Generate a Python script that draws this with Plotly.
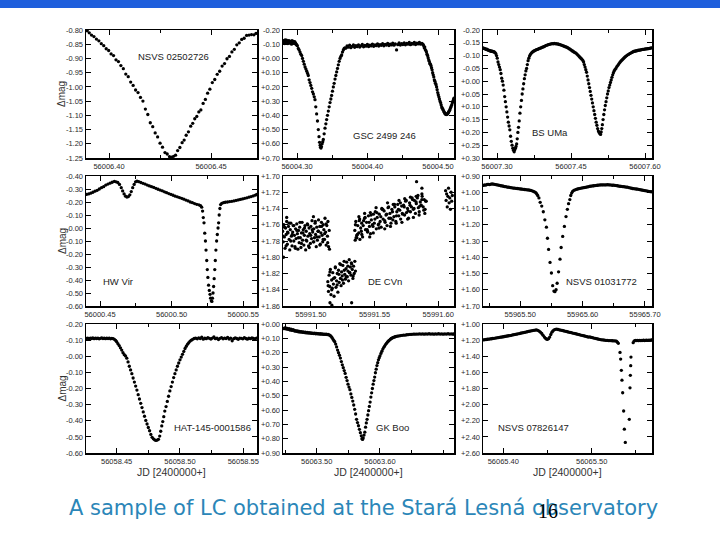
import plotly.graph_objects as go

# ---------------- data (JD offsets from base day, delta-mag) ----------------
NSVS02502726_JD0 = 56006.0
NSVS02502726 = [
    (0.3893,-0.803),(0.3903,-0.810),(0.3914,-0.818),(0.3926,-0.823),(0.3938,-0.832),(0.3950,-0.838),
    (0.3962,-0.848),(0.3974,-0.855),(0.3986,-0.866),(0.3998,-0.872),(0.4010,-0.884),(0.4022,-0.890),
    (0.4034,-0.905),(0.4046,-0.911),(0.4058,-0.925),(0.4070,-0.936),(0.4082,-0.955),(0.4094,-0.964),
    (0.4106,-0.983),(0.4118,-0.995),(0.4130,-1.011),(0.4142,-1.020),(0.4154,-1.037),(0.4166,-1.050),
    (0.4178,-1.078),(0.4190,-1.097),(0.4202,-1.126),(0.4214,-1.140),(0.4226,-1.162),(0.4238,-1.176),
    (0.4250,-1.198),(0.4262,-1.212),(0.4274,-1.231),(0.4285,-1.236),(0.4296,-1.245),(0.4306,-1.247),
    (0.4316,-1.244),(0.4326,-1.240),(0.4336,-1.224),(0.4347,-1.213),(0.4358,-1.196),(0.4368,-1.187),
    (0.4378,-1.170),(0.4389,-1.158),(0.4400,-1.138),(0.4410,-1.128),(0.4420,-1.112),(0.4430,-1.104),
    (0.4440,-1.088),(0.4450,-1.081),(0.4461,-1.058),(0.4472,-1.044),(0.4483,-1.022),(0.4494,-1.008),
    (0.4506,-0.985),(0.4518,-0.974),(0.4530,-0.956),(0.4542,-0.945),(0.4554,-0.927),(0.4566,-0.918),
    (0.4578,-0.901),(0.4590,-0.893),(0.4602,-0.877),(0.4614,-0.868),(0.4626,-0.852),(0.4638,-0.845),
    (0.4650,-0.833),(0.4662,-0.829),(0.4674,-0.819),(0.4686,-0.818),(0.4698,-0.816),(0.4710,-0.817),
    (0.4720,-0.812)]

GSC2499246_JD0 = 56004.0
GSC2499246 = [
    (0.2805,-0.120),(0.2812,-0.125),(0.2818,-0.110),(0.2825,-0.105),(0.2831,-0.130),(0.2838,-0.118),
    (0.2844,-0.115),(0.2851,-0.128),(0.2857,-0.120),(0.2864,-0.112),(0.2870,-0.105),(0.2877,-0.118),
    (0.2883,-0.125),(0.2890,-0.122),(0.2896,-0.110),(0.2903,-0.108),(0.2909,-0.120),(0.2916,-0.115),
    (0.2922,-0.100),(0.2929,-0.125),(0.2935,-0.115),(0.2942,-0.108),(0.2948,-0.120),(0.2955,-0.112),
    (0.2961,-0.105),(0.2968,-0.118),(0.2974,-0.110),(0.2981,-0.105),(0.2987,-0.100),(0.2994,-0.095),
    (0.3005,-0.090),(0.3018,-0.070),(0.3030,-0.060),(0.3042,-0.045),(0.3054,-0.030),(0.3066,-0.020),
    (0.3078,0.000),(0.3090,0.020),(0.3102,0.040),(0.3114,0.060),(0.3126,0.075),(0.3138,0.090),
    (0.3150,0.105),(0.3160,0.120),(0.3172,0.150),(0.3184,0.170),(0.3196,0.190),(0.3208,0.210),
    (0.3220,0.235),(0.3232,0.250),(0.3244,0.270),(0.3255,0.290),(0.3266,0.340),(0.3278,0.390),
    (0.3290,0.440),(0.3302,0.500),(0.3312,0.550),(0.3320,0.590),(0.3328,0.610),(0.3334,0.625),
    (0.3340,0.630),(0.3346,0.620),(0.3356,0.600),(0.3365,0.585),(0.3373,0.570),(0.3385,0.530),
    (0.3397,0.490),(0.3409,0.460),(0.3420,0.430),(0.3432,0.400),(0.3444,0.370),(0.3456,0.340),
    (0.3468,0.310),(0.3480,0.285),(0.3491,0.260),(0.3503,0.230),(0.3515,0.200),(0.3527,0.175),
    (0.3539,0.145),(0.3551,0.120),(0.3562,0.095),(0.3574,0.070),(0.3586,0.045),(0.3598,0.020),
    (0.3610,0.000),(0.3622,-0.015),(0.3633,-0.025),(0.3645,-0.045),(0.3657,-0.060),(0.3669,-0.070),
    (0.3680,-0.075),
    (0.3692,-0.072),(0.3710,-0.088),(0.3728,-0.079),(0.3746,-0.093),(0.3764,-0.076),(0.3782,-0.085),
    (0.3800,-0.095),(0.3818,-0.078),(0.3836,-0.090),(0.3854,-0.083),(0.3872,-0.096),(0.3890,-0.080),
    (0.3908,-0.089),(0.3926,-0.098),(0.3944,-0.082),(0.3962,-0.092),(0.3980,-0.086),(0.3998,-0.099),
    (0.4016,-0.084),(0.4034,-0.094),(0.4052,-0.088),(0.4070,-0.101),(0.4088,-0.085),(0.4106,-0.096),
    (0.4124,-0.090),(0.4142,-0.103),(0.4160,-0.087),(0.4178,-0.097),(0.4196,-0.092),(0.4214,-0.104),
    (0.4232,-0.089),(0.4250,-0.099),(0.4268,-0.094),(0.4286,-0.106),(0.4304,-0.091),(0.4322,-0.101),
    (0.4340,-0.095),(0.4358,-0.108),(0.4376,-0.093),(0.4394,-0.103),(0.4412,-0.060),(0.4430,-0.097),
    (0.4448,-0.109),(0.4466,-0.094),(0.4484,-0.104),(0.4502,-0.098),(0.4520,-0.110),(0.4538,-0.096),
    (0.4556,-0.105),(0.4574,-0.100),(0.4592,-0.112),(0.4610,-0.097),(0.4628,-0.106),(0.4646,-0.101),
    (0.4664,-0.113),(0.4682,-0.098),(0.4700,-0.107),(0.4718,-0.102),(0.4736,-0.112),(0.4754,-0.100),
    (0.4772,-0.106),(0.4788,-0.098),
    (0.4797,-0.090),(0.4805,-0.075),(0.4812,-0.080),(0.4820,-0.062),(0.4828,-0.055),(0.4836,-0.045),
    (0.4844,-0.030),(0.4852,-0.020),(0.4860,-0.005),(0.4868,0.010),(0.4876,0.020),(0.4884,0.035),
    (0.4892,0.040),(0.4900,0.050),(0.4908,0.065),(0.4916,0.080),(0.4924,0.100),(0.4932,0.115),
    (0.4940,0.130),(0.4948,0.150),(0.4956,0.160),(0.4964,0.175),(0.4972,0.185),(0.4980,0.200),
    (0.4988,0.220),(0.4996,0.240),(0.5004,0.255),(0.5012,0.270),(0.5020,0.285),(0.5028,0.300),
    (0.5036,0.310),(0.5044,0.325),(0.5052,0.340),(0.5060,0.350),(0.5068,0.355),(0.5076,0.365),
    (0.5084,0.375),(0.5092,0.380),(0.5100,0.388),(0.5108,0.392),(0.5116,0.395),(0.5124,0.390),
    (0.5132,0.393),(0.5140,0.385),(0.5148,0.380),(0.5156,0.372),(0.5164,0.365),(0.5172,0.355),
    (0.5180,0.345),(0.5188,0.335),(0.5196,0.325),(0.5204,0.310),(0.5212,0.300),(0.5220,0.290),
    (0.5226,0.280)]

BSUMA_JD0 = 56007.0
BSUMA = [
    (0.2720,-0.130),(0.2735,-0.128),(0.2750,-0.127),(0.2765,-0.126),(0.2780,-0.124),(0.2795,-0.125),
    (0.2810,-0.122),(0.2825,-0.121),(0.2840,-0.120),(0.2855,-0.119),(0.2870,-0.118),(0.2885,-0.117),
    (0.2900,-0.117),(0.2915,-0.116),(0.2930,-0.115),(0.2945,-0.114),(0.2960,-0.112),(0.2975,-0.108),
    (0.2990,-0.100),(0.3005,-0.090),(0.3020,-0.075),(0.3035,-0.065),(0.3050,-0.055),(0.3065,-0.045),
    (0.3080,-0.030),(0.3095,-0.012),(0.3110,0.000),(0.3125,0.015),(0.3140,0.035),(0.3155,0.060),
    (0.3170,0.080),(0.3185,0.100),(0.3200,0.120),(0.3215,0.140),(0.3230,0.160),(0.3245,0.175),
    (0.3260,0.190),(0.3275,0.215),(0.3290,0.235),(0.3305,0.250),(0.3320,0.262),(0.3335,0.270),
    (0.3348,0.276),(0.3360,0.268),(0.3372,0.262),(0.3385,0.255),(0.3398,0.245),(0.3410,0.225),
    (0.3423,0.200),(0.3436,0.180),(0.3450,0.155),(0.3465,0.125),(0.3480,0.100),(0.3495,0.075),
    (0.3510,0.050),(0.3525,0.030),(0.3540,0.010),(0.3555,-0.010),(0.3570,-0.025),(0.3585,-0.040),
    (0.3600,-0.050),(0.3615,-0.065),(0.3630,-0.080),(0.3645,-0.090),(0.3660,-0.098),(0.3675,-0.104),
    (0.3690,-0.108),(0.3705,-0.112),(0.3720,-0.114),(0.3740,-0.117),(0.3760,-0.119),(0.3780,-0.121),
    (0.3800,-0.123),(0.3820,-0.124),(0.3840,-0.126),(0.3860,-0.128),(0.3880,-0.129),(0.3900,-0.131),
    (0.3920,-0.133),(0.3940,-0.134),(0.3960,-0.136),(0.3980,-0.138),(0.4000,-0.140),(0.4020,-0.141),
    (0.4040,-0.143),(0.4060,-0.144),(0.4080,-0.145),(0.4100,-0.146),(0.4120,-0.147),(0.4140,-0.146),
    (0.4160,-0.148),(0.4180,-0.146),(0.4200,-0.147),(0.4220,-0.145),(0.4240,-0.146),(0.4260,-0.143),
    (0.4280,-0.143),(0.4300,-0.141),(0.4320,-0.140),(0.4340,-0.138),(0.4360,-0.137),(0.4380,-0.135),
    (0.4400,-0.134),(0.4420,-0.132),(0.4440,-0.130),(0.4460,-0.127),(0.4480,-0.125),(0.4500,-0.122),
    (0.4520,-0.119),(0.4540,-0.117),(0.4560,-0.114),(0.4580,-0.112),(0.4600,-0.110),(0.4620,-0.106),
    (0.4640,-0.102),(0.4660,-0.098),(0.4680,-0.094),(0.4700,-0.090),(0.4720,-0.086),(0.4740,-0.081),
    (0.4755,-0.075),(0.4770,-0.065),(0.4785,-0.055),(0.4800,-0.045),(0.4815,-0.035),(0.4830,-0.020),
    (0.4845,-0.005),(0.4860,0.010),(0.4875,0.025),(0.4890,0.040),(0.4905,0.055),(0.4920,0.070),
    (0.4935,0.085),(0.4950,0.100),(0.4965,0.115),(0.4980,0.130),(0.4995,0.145),(0.5010,0.160),
    (0.5025,0.172),(0.5040,0.185),(0.5055,0.195),(0.5070,0.200),(0.5085,0.205),(0.5100,0.208),
    (0.5112,0.198),(0.5124,0.185),(0.5136,0.170),(0.5150,0.150),(0.5165,0.130),(0.5180,0.112),
    (0.5195,0.095),(0.5210,0.080),(0.5225,0.065),(0.5240,0.050),(0.5255,0.038),(0.5270,0.025),
    (0.5285,0.015),(0.5300,0.005),(0.5315,-0.005),(0.5330,-0.015),(0.5345,-0.025),(0.5360,-0.033),
    (0.5375,-0.040),(0.5390,-0.045),(0.5410,-0.050),(0.5430,-0.057),(0.5450,-0.062),(0.5470,-0.068),
    (0.5490,-0.073),(0.5510,-0.078),(0.5530,-0.082),(0.5550,-0.086),(0.5570,-0.090),(0.5590,-0.094),
    (0.5610,-0.097),(0.5630,-0.100),(0.5650,-0.103),(0.5670,-0.105),(0.5690,-0.108),(0.5710,-0.110),
    (0.5730,-0.112),(0.5750,-0.114),(0.5770,-0.116),(0.5790,-0.117),(0.5810,-0.118),(0.5830,-0.119),
    (0.5850,-0.120),(0.5870,-0.121),(0.5890,-0.121),(0.5910,-0.122),(0.5930,-0.123),(0.5950,-0.124),
    (0.5970,-0.124),(0.5990,-0.125),(0.6010,-0.126),(0.6030,-0.126),(0.6050,-0.127),(0.6070,-0.127),
    (0.6090,-0.128),(0.6110,-0.129),(0.6130,-0.130)]

HWVIR_JD0 = 56000.0
HWVIR = [
    (0.4405,-0.258),(0.4420,-0.262),(0.4435,-0.268),(0.4450,-0.275),(0.4465,-0.283),(0.4480,-0.290),
    (0.4495,-0.300),(0.4510,-0.310),(0.4525,-0.318),(0.4540,-0.330),(0.4555,-0.338),(0.4570,-0.345),
    (0.4585,-0.352),(0.4600,-0.358),(0.4612,-0.355),(0.4624,-0.350),(0.4636,-0.335),(0.4648,-0.310),
    (0.4658,-0.285),(0.4668,-0.262),(0.4678,-0.245),(0.4688,-0.238),(0.4698,-0.242),(0.4708,-0.255),
    (0.4718,-0.280),(0.4728,-0.310),(0.4738,-0.335),(0.4748,-0.355),(0.4758,-0.360),(0.4770,-0.356),
    (0.4785,-0.350),(0.4800,-0.344),(0.4815,-0.338),(0.4830,-0.330),(0.4845,-0.324),(0.4860,-0.318),
    (0.4875,-0.312),(0.4890,-0.305),(0.4905,-0.298),(0.4920,-0.292),(0.4935,-0.286),(0.4950,-0.278),
    (0.4965,-0.272),(0.4980,-0.265),(0.4995,-0.258),(0.5010,-0.252),(0.5025,-0.245),(0.5040,-0.240),
    (0.5055,-0.234),(0.5070,-0.228),(0.5085,-0.222),(0.5100,-0.215),(0.5115,-0.208),(0.5130,-0.200),
    (0.5145,-0.195),(0.5160,-0.188),(0.5175,-0.182),(0.5190,-0.178),(0.5202,-0.172),(0.5210,-0.160),
    (0.5216,-0.130),(0.5221,-0.080),(0.5226,-0.040),(0.5231,0.040),(0.5236,0.100),(0.5240,0.170),
    (0.5245,0.250),(0.5249,0.320),(0.5253,0.380),(0.5258,0.440),(0.5263,0.480),(0.5268,0.510),
    (0.5272,0.540),(0.5277,0.560),(0.5281,0.565),(0.5285,0.540),(0.5289,0.500),(0.5293,0.450),
    (0.5297,0.390),(0.5301,0.320),(0.5305,0.250),(0.5309,0.170),(0.5314,0.100),(0.5319,0.050),
    (0.5324,0.000),(0.5328,-0.040),(0.5332,-0.100),(0.5337,-0.150),(0.5342,-0.180),
    (0.5350,-0.190),(0.5362,-0.195),(0.5375,-0.198),(0.5390,-0.200),(0.5405,-0.203),(0.5420,-0.205),
    (0.5435,-0.208),(0.5450,-0.212),(0.5465,-0.216),(0.5480,-0.220),(0.5495,-0.224),(0.5510,-0.228),
    (0.5525,-0.232),(0.5540,-0.237),(0.5555,-0.242),(0.5570,-0.247),(0.5585,-0.253),(0.5595,-0.258)]

DECVN_JD0 = 55991.0
DECVN = [
    # first cloud
    (0.4778,1.768),(0.4783,1.781),(0.4787,1.760),(0.4792,1.775),(0.4797,1.789),(0.4801,1.764),
    (0.4806,1.772),(0.4810,1.756),(0.4815,1.784),(0.4820,1.770),(0.4824,1.762),(0.4829,1.778),
    (0.4834,1.791),(0.4838,1.766),(0.4843,1.758),(0.4847,1.774),(0.4852,1.786),(0.4857,1.769),
    (0.4861,1.761),(0.4866,1.780),(0.4871,1.773),(0.4875,1.787),(0.4880,1.765),(0.4884,1.777),
    (0.4889,1.759),(0.4894,1.771),(0.4898,1.790),(0.4903,1.767),(0.4908,1.782),(0.4912,1.763),
    (0.4917,1.776),(0.4922,1.788),(0.4926,1.770),(0.4931,1.757),(0.4935,1.779),(0.4940,1.766),
    (0.4945,1.785),(0.4949,1.773),(0.4954,1.761),(0.4959,1.791),(0.4963,1.768),(0.4968,1.780),
    (0.4972,1.759),(0.4977,1.774),(0.4982,1.786),(0.4986,1.764),(0.4991,1.771),(0.4996,1.783),
    (0.5000,1.762),(0.5005,1.777),(0.5009,1.755),(0.5014,1.769),(0.5019,1.781),(0.5023,1.765),
    (0.5028,1.776),(0.5033,1.758),(0.5037,1.772),(0.5042,1.787),(0.5046,1.763),(0.5051,1.779),
    (0.5056,1.768),(0.5060,1.754),(0.5065,1.775),(0.5070,1.762),(0.5074,1.784),(0.5079,1.770),
    (0.5083,1.757),(0.5088,1.773),(0.5093,1.781),(0.5097,1.760),(0.5102,1.766),(0.5107,1.778),
    (0.5111,1.752),(0.5116,1.769),(0.5120,1.785),(0.5125,1.761),(0.5130,1.774),(0.5134,1.756),
    (0.5139,1.787),(0.5144,1.767),
    (0.4781,1.774),(0.4793,1.763),(0.4805,1.786),(0.4817,1.769),(0.4829,1.758),(0.4842,1.780),
    (0.4854,1.772),(0.4866,1.761),(0.4878,1.789),(0.4890,1.767),(0.4902,1.776),(0.4914,1.757),
    (0.4926,1.783),(0.4938,1.770),(0.4950,1.764),(0.4963,1.779),(0.4975,1.760),(0.4987,1.788),
    (0.4999,1.773),(0.5011,1.766),(0.5023,1.781),(0.5035,1.756),(0.5047,1.775),(0.5059,1.768),
    (0.5071,1.785),(0.5084,1.762),(0.5096,1.778),(0.5108,1.771),(0.5120,1.759),(0.5132,1.782),
    (0.4785,1.800),(0.4810,1.751),(0.5020,1.750),(0.5146,1.790),
    # second cloud
    (0.5133,1.830),(0.5138,1.842),(0.5143,1.822),(0.5148,1.836),(0.5153,1.815),(0.5158,1.846),
    (0.5163,1.828),(0.5168,1.838),(0.5172,1.819),(0.5177,1.833),(0.5182,1.848),(0.5187,1.825),
    (0.5192,1.812),(0.5197,1.837),(0.5202,1.829),(0.5207,1.820),(0.5212,1.843),(0.5217,1.816),
    (0.5222,1.831),(0.5227,1.808),(0.5232,1.826),(0.5237,1.835),(0.5241,1.818),(0.5246,1.823),
    (0.5251,1.810),(0.5256,1.832),(0.5261,1.805),(0.5266,1.821),(0.5271,1.827),(0.5276,1.814),
    (0.5281,1.806),(0.5286,1.824),(0.5291,1.817),(0.5296,1.829),(0.5301,1.803),(0.5306,1.819),
    (0.5310,1.812),(0.5315,1.822),(0.5320,1.808),(0.5325,1.815),(0.5330,1.826),(0.5335,1.811),
    (0.5340,1.820),(0.5345,1.805),(0.5350,1.817),
    (0.5136,1.835),(0.5150,1.818),(0.5164,1.840),(0.5178,1.826),(0.5192,1.813),(0.5206,1.834),
    (0.5220,1.821),(0.5234,1.809),(0.5248,1.828),(0.5262,1.816),(0.5276,1.824),(0.5290,1.811),
    (0.5304,1.819),(0.5318,1.807),(0.5332,1.823),
    (0.5150,1.856),(0.5165,1.859),(0.5320,1.856),
    # third cloud
    (0.5345,1.767),(0.5353,1.756),(0.5360,1.773),(0.5368,1.761),(0.5376,1.770),(0.5383,1.753),
    (0.5391,1.764),(0.5399,1.758),(0.5406,1.775),(0.5414,1.755),(0.5422,1.752),(0.5429,1.766),
    (0.5437,1.757),(0.5445,1.769),(0.5452,1.749),(0.5460,1.762),(0.5468,1.771),(0.5475,1.754),
    (0.5483,1.760),(0.5491,1.747),(0.5498,1.758),(0.5506,1.744),(0.5514,1.765),(0.5521,1.751),
    (0.5529,1.760),(0.5537,1.747),(0.5544,1.756),(0.5552,1.763),(0.5560,1.741),(0.5567,1.753),
    (0.5575,1.743),(0.5583,1.757),(0.5590,1.748),(0.5598,1.761),(0.5606,1.739),(0.5613,1.752),
    (0.5621,1.746),(0.5629,1.758),(0.5636,1.741),(0.5644,1.754),(0.5652,1.750),(0.5659,1.738),
    (0.5667,1.756),(0.5675,1.744),(0.5682,1.735),(0.5690,1.749),(0.5698,1.742),(0.5705,1.753),
    (0.5713,1.737),(0.5721,1.747),(0.5728,1.736),(0.5736,1.748),(0.5744,1.731),(0.5751,1.745),
    (0.5759,1.740),(0.5767,1.752),(0.5775,1.733),(0.5782,1.744),(0.5790,1.738),(0.5798,1.729),
    (0.5805,1.741),(0.5813,1.730),(0.5821,1.746),(0.5828,1.734),(0.5836,1.727),(0.5844,1.739),
    (0.5851,1.744),(0.5859,1.732),(0.5867,1.736),(0.5874,1.725),(0.5882,1.738),(0.5890,1.729),
    (0.5897,1.741),(0.5905,1.731),
    (0.5350,1.760),(0.5365,1.772),(0.5380,1.755),(0.5396,1.768),(0.5411,1.761),(0.5426,1.751),
    (0.5442,1.766),(0.5457,1.757),(0.5472,1.748),(0.5488,1.762),(0.5503,1.753),(0.5518,1.745),
    (0.5534,1.759),(0.5549,1.750),(0.5565,1.741),(0.5580,1.755),(0.5595,1.747),(0.5611,1.738),
    (0.5626,1.752),(0.5641,1.744),(0.5657,1.735),(0.5672,1.749),(0.5687,1.741),(0.5703,1.733),
    (0.5718,1.746),(0.5733,1.738),(0.5749,1.730),(0.5764,1.743),(0.5779,1.736),(0.5795,1.727),
    (0.5810,1.740),(0.5826,1.732),(0.5841,1.724),(0.5856,1.737),(0.5872,1.729),(0.5887,1.742),
    (0.5902,1.731),
    (0.5355,1.776),(0.5377,1.750),(0.5400,1.772),(0.5422,1.746),(0.5445,1.768),(0.5467,1.745),
    (0.5490,1.770),(0.5512,1.739),(0.5535,1.764),(0.5557,1.740),(0.5580,1.765),(0.5602,1.733),
    (0.5625,1.762),(0.5647,1.735),(0.5670,1.758),(0.5692,1.730),(0.5715,1.757),(0.5737,1.728),
    (0.5760,1.753),(0.5782,1.726),(0.5805,1.751),(0.5827,1.725),(0.5850,1.748),(0.5872,1.722),
    (0.5895,1.746),
    (0.5348,1.779),(0.5361,1.776),(0.5385,1.778),(0.5462,1.775),(0.5830,1.707),(0.5872,1.715),
    # fourth cloud
    (0.6058,1.718),(0.6062,1.730),(0.6066,1.722),(0.6071,1.738),(0.6076,1.725),(0.6081,1.715),
    (0.6086,1.733),(0.6091,1.727),(0.6096,1.741),(0.6101,1.720),(0.6106,1.731),(0.6111,1.724)]

NSVS01031772_JD0 = 55965.0
NSVS01031772 = [
    (0.4410,0.958),(0.4430,0.955),(0.4450,0.956),(0.4470,0.952),(0.4490,0.951),(0.4510,0.953),
    (0.4530,0.950),(0.4550,0.949),(0.4570,0.950),(0.4590,0.951),(0.4610,0.953),(0.4630,0.955),
    (0.4650,0.956),(0.4670,0.958),(0.4690,0.960),(0.4710,0.961),(0.4730,0.963),(0.4750,0.965),
    (0.4770,0.966),(0.4790,0.968),(0.4810,0.969),(0.4830,0.970),(0.4850,0.972),(0.4870,0.973),
    (0.4890,0.974),(0.4910,0.975),(0.4930,0.976),(0.4950,0.977),(0.4970,0.978),(0.4990,0.979),
    (0.5010,0.980),(0.5030,0.981),(0.5050,0.982),(0.5070,0.983),(0.5090,0.984),(0.5110,0.985),
    (0.5130,0.986),(0.5150,0.987),(0.5170,0.989),(0.5190,0.991),(0.5210,0.994),(0.5230,0.998),
    (0.5250,1.003),(0.5265,1.010),(0.5280,1.020),(0.5300,1.035),(0.5320,1.062),(0.5345,1.085),
    (0.5370,1.120),(0.5395,1.170),(0.5420,1.215),(0.5437,1.283),(0.5455,1.352),(0.5478,1.432),
    (0.5500,1.497),(0.5520,1.575),(0.5540,1.608),(0.5556,1.612),(0.5575,1.600),(0.5592,1.560),
    (0.5615,1.490),(0.5638,1.412),(0.5656,1.340),(0.5681,1.272),(0.5708,1.210),(0.5734,1.150),
    (0.5756,1.105),(0.5775,1.070),(0.5795,1.045),(0.5810,1.020),(0.5825,1.005),(0.5840,0.995),
    (0.5860,0.988),(0.5880,0.985),(0.5900,0.982),(0.5920,0.980),(0.5940,0.978),(0.5960,0.976),
    (0.5980,0.974),(0.6000,0.973),(0.6020,0.972),(0.6040,0.970),(0.6060,0.968),(0.6080,0.967),
    (0.6100,0.965),(0.6120,0.963),(0.6140,0.962),(0.6160,0.961),(0.6180,0.960),(0.6200,0.959),
    (0.6220,0.958),(0.6240,0.957),(0.6260,0.956),(0.6280,0.955),(0.6300,0.955),(0.6320,0.954),
    (0.6340,0.955),(0.6360,0.954),(0.6380,0.955),(0.6400,0.953),(0.6420,0.955),(0.6440,0.954),
    (0.6460,0.956),(0.6480,0.957),(0.6500,0.956),(0.6520,0.958),(0.6540,0.959),(0.6560,0.960),
    (0.6580,0.962),(0.6600,0.963),(0.6620,0.964),(0.6640,0.965),(0.6660,0.966),(0.6680,0.967),
    (0.6700,0.968),(0.6720,0.969),(0.6740,0.971),(0.6760,0.973),(0.6780,0.975),(0.6800,0.977),
    (0.6820,0.978),(0.6840,0.979),(0.6860,0.980),(0.6880,0.981),(0.6900,0.982),(0.6920,0.984),
    (0.6940,0.986),(0.6960,0.987),(0.6980,0.989),(0.7000,0.990),(0.7020,0.991),(0.7040,0.993),
    (0.7060,0.994),(0.7080,0.996),(0.7100,0.997)]

HAT145_JD0 = 56058.0
HAT145 = [
    (0.4262,-0.110),(0.4272,-0.112),(0.4282,-0.108),(0.4292,-0.113),(0.4302,-0.110),(0.4312,-0.114),
    (0.4322,-0.109),(0.4332,-0.112),(0.4342,-0.110),(0.4352,-0.113),(0.4362,-0.108),(0.4372,-0.111),
    (0.4382,-0.114),(0.4392,-0.110),(0.4402,-0.112),(0.4412,-0.109),(0.4422,-0.113),(0.4432,-0.110),
    (0.4442,-0.112),(0.4452,-0.108),(0.4462,-0.111),(0.4472,-0.109),(0.4482,-0.105),(0.4492,-0.098),
    (0.4500,-0.090),(0.4510,-0.078),(0.4520,-0.066),(0.4530,-0.052),(0.4540,-0.038),(0.4550,-0.022),
    (0.4560,-0.010),(0.4570,-0.002),(0.4580,0.012),(0.4590,0.035),(0.4600,0.062),(0.4610,0.085),
    (0.4620,0.108),(0.4630,0.135),(0.4640,0.160),(0.4650,0.185),(0.4660,0.210),(0.4670,0.238),
    (0.4680,0.265),(0.4690,0.292),(0.4700,0.318),(0.4710,0.345),(0.4720,0.372),(0.4730,0.398),
    (0.4740,0.420),(0.4750,0.442),(0.4760,0.462),(0.4770,0.485),(0.4780,0.503),(0.4790,0.512),
    (0.4800,0.518),(0.4810,0.522),(0.4820,0.520),(0.4830,0.515),(0.4840,0.495),(0.4848,0.465),
    (0.4856,0.432),(0.4864,0.405),(0.4872,0.375),(0.4880,0.340),(0.4890,0.312),(0.4900,0.280),
    (0.4910,0.248),(0.4920,0.215),(0.4930,0.188),(0.4940,0.160),(0.4950,0.132),(0.4960,0.108),
    (0.4970,0.085),(0.4980,0.062),(0.4990,0.042),(0.5000,0.022),(0.5010,0.005),(0.5020,-0.012),
    (0.5030,-0.030),(0.5040,-0.048),(0.5050,-0.062),(0.5060,-0.075),(0.5070,-0.085),(0.5080,-0.094),
    (0.5090,-0.100),(0.5100,-0.105),(0.5112,-0.110),(0.5124,-0.112),(0.5136,-0.108),(0.5148,-0.114),
    (0.5160,-0.110),(0.5172,-0.118),(0.5184,-0.106),(0.5196,-0.112),(0.5208,-0.109),(0.5220,-0.115),
    (0.5232,-0.111),(0.5244,-0.107),(0.5256,-0.113),(0.5268,-0.120),(0.5280,-0.109),(0.5292,-0.112),
    (0.5304,-0.104),(0.5316,-0.111),(0.5328,-0.116),(0.5340,-0.108),(0.5352,-0.113),(0.5364,-0.110),
    (0.5376,-0.117),(0.5388,-0.107),(0.5400,-0.112),(0.5412,-0.096),(0.5424,-0.109),(0.5436,-0.114),
    (0.5448,-0.110),(0.5460,-0.105),(0.5472,-0.113),(0.5484,-0.111),(0.5496,-0.108),(0.5508,-0.115),
    (0.5520,-0.110),(0.5532,-0.106),(0.5544,-0.112),(0.5556,-0.109),(0.5568,-0.114),(0.5580,-0.110),
    (0.5592,-0.108),(0.5604,-0.112)]

GKBOO_JD0 = 56063.0
GKBOO = [
    (0.4475,0.030),(0.4490,0.032),(0.4505,0.025),(0.4520,0.035),(0.4535,0.030),(0.4550,0.038),
    (0.4565,0.033),(0.4580,0.042),(0.4595,0.036),(0.4610,0.045),(0.4625,0.040),(0.4640,0.043),
    (0.4655,0.050),(0.4670,0.046),(0.4685,0.052),(0.4700,0.048),(0.4715,0.055),(0.4730,0.051),
    (0.4745,0.057),(0.4760,0.053),(0.4775,0.058),(0.4790,0.055),(0.4805,0.060),(0.4820,0.057),
    (0.4835,0.062),(0.4850,0.059),(0.4865,0.063),(0.4880,0.060),(0.4895,0.064),(0.4910,0.062),
    (0.4925,0.066),(0.4940,0.063),(0.4955,0.067),(0.4970,0.064),(0.4985,0.068),(0.5000,0.066),
    (0.5015,0.069),(0.5030,0.067),(0.5045,0.070),(0.5060,0.068),(0.5075,0.071),(0.5090,0.069),
    (0.5105,0.072),(0.5120,0.070),(0.5135,0.073),(0.5150,0.071),(0.5165,0.074),(0.5180,0.073),
    (0.5195,0.076),(0.5210,0.079),(0.5225,0.085),(0.5240,0.094),(0.5255,0.104),(0.5270,0.115),
    (0.5285,0.124),(0.5300,0.140),(0.5315,0.160),(0.5330,0.182),(0.5345,0.200),(0.5360,0.218),
    (0.5375,0.238),(0.5390,0.262),(0.5405,0.285),(0.5420,0.305),(0.5435,0.325),(0.5450,0.345),
    (0.5465,0.372),(0.5480,0.395),(0.5495,0.420),(0.5510,0.440),(0.5525,0.458),(0.5540,0.488),
    (0.5555,0.512),(0.5570,0.538),(0.5585,0.565),(0.5600,0.595),(0.5615,0.628),(0.5630,0.665),
    (0.5645,0.688),(0.5660,0.710),(0.5675,0.735),(0.5690,0.758),(0.5705,0.780),(0.5715,0.800),
    (0.5725,0.805),(0.5735,0.795),(0.5748,0.775),(0.5760,0.755),(0.5772,0.720),(0.5784,0.690),
    (0.5796,0.665),(0.5808,0.635),(0.5820,0.605),(0.5832,0.575),(0.5844,0.545),(0.5856,0.510),
    (0.5868,0.480),(0.5880,0.450),(0.5892,0.420),(0.5904,0.395),(0.5916,0.370),(0.5928,0.340),
    (0.5940,0.315),(0.5952,0.290),(0.5964,0.270),(0.5976,0.250),(0.5988,0.235),(0.6000,0.222),
    (0.6015,0.205),(0.6030,0.190),(0.6045,0.175),(0.6060,0.163),(0.6075,0.152),(0.6090,0.142),
    (0.6105,0.133),(0.6120,0.125),(0.6135,0.118),(0.6150,0.112),(0.6165,0.106),(0.6180,0.101),
    (0.6195,0.097),(0.6210,0.094),(0.6225,0.091),(0.6240,0.089),(0.6255,0.087),(0.6275,0.085),
    (0.6300,0.083),(0.6325,0.081),(0.6350,0.079),(0.6375,0.078),(0.6400,0.077),(0.6425,0.075),
    (0.6450,0.074),(0.6475,0.073),(0.6500,0.072),(0.6525,0.071),(0.6550,0.071),(0.6575,0.070),
    (0.6600,0.070),(0.6625,0.069),(0.6650,0.070),(0.6675,0.069),(0.6700,0.071),(0.6725,0.069),
    (0.6750,0.070),(0.6775,0.068),(0.6800,0.070),(0.6825,0.069),(0.6850,0.071),(0.6875,0.069),
    (0.6900,0.070),(0.6925,0.068),(0.6950,0.070),(0.6975,0.069),(0.7000,0.071),(0.7025,0.069),
    (0.7050,0.070),(0.7075,0.068),(0.7100,0.070),(0.7125,0.069),(0.7150,0.071),(0.7165,0.069)]

NSVS07826147_JD0 = 56065.0
NSVS07826147 = [
    (0.3775,1.197),(0.3790,1.195),(0.3805,1.192),(0.3820,1.189),(0.3835,1.188),(0.3850,1.185),
    (0.3865,1.183),(0.3880,1.180),(0.3895,1.178),(0.3910,1.175),(0.3925,1.172),(0.3940,1.170),
    (0.3955,1.167),(0.3970,1.164),(0.3985,1.161),(0.4000,1.158),(0.4015,1.155),(0.4030,1.152),
    (0.4045,1.149),(0.4060,1.146),(0.4075,1.143),(0.4090,1.140),(0.4105,1.136),(0.4120,1.133),
    (0.4135,1.129),(0.4150,1.126),(0.4165,1.122),(0.4180,1.119),(0.4195,1.115),(0.4210,1.111),
    (0.4225,1.107),(0.4240,1.104),(0.4255,1.100),(0.4270,1.096),(0.4285,1.092),(0.4300,1.089),
    (0.4315,1.085),(0.4330,1.082),(0.4345,1.079),(0.4360,1.076),(0.4375,1.074),(0.4390,1.078),
    (0.4405,1.088),(0.4420,1.102),(0.4435,1.118),(0.4450,1.140),(0.4465,1.162),(0.4478,1.178),
    (0.4490,1.188),(0.4500,1.190),(0.4512,1.182),(0.4525,1.162),(0.4538,1.130),(0.4550,1.102),
    (0.4562,1.085),(0.4575,1.072),(0.4590,1.066),(0.4605,1.064),(0.4620,1.068),(0.4635,1.072),
    (0.4650,1.076),(0.4665,1.080),(0.4680,1.084),(0.4695,1.088),(0.4710,1.092),(0.4725,1.096),
    (0.4740,1.100),(0.4755,1.104),(0.4770,1.108),(0.4785,1.112),(0.4800,1.116),(0.4815,1.120),
    (0.4830,1.124),(0.4845,1.128),(0.4860,1.133),(0.4875,1.137),(0.4890,1.141),(0.4905,1.145),
    (0.4920,1.149),(0.4935,1.153),(0.4950,1.158),(0.4965,1.162),(0.4980,1.160),(0.4995,1.166),
    (0.5010,1.170),(0.5025,1.174),(0.5040,1.178),(0.5055,1.182),(0.5070,1.186),(0.5085,1.190),
    (0.5100,1.193),(0.5115,1.196),(0.5130,1.198),(0.5145,1.200),(0.5160,1.202),(0.5175,1.204),
    (0.5190,1.205),(0.5205,1.206),(0.5220,1.207),(0.5235,1.208),(0.5250,1.209),(0.5265,1.210),
    (0.5280,1.212),(0.5292,1.225),(0.5302,1.240),(0.5321,1.353),(0.5328,1.435),(0.5336,1.574),
    (0.5343,1.697),(0.5351,1.853),(0.5362,2.079),(0.5370,2.305),(0.5381,2.469),(0.5426,2.182),
    (0.5434,1.792),(0.5438,1.636),(0.5442,1.517),(0.5445,1.410),(0.5470,1.232),(0.5480,1.212),
    (0.5490,1.205),(0.5500,1.203),(0.5510,1.206),(0.5520,1.204),(0.5530,1.207),(0.5540,1.203),
    (0.5550,1.205),(0.5560,1.202),(0.5570,1.206),(0.5580,1.204),(0.5590,1.201),(0.5600,1.205),
    (0.5610,1.203),(0.5620,1.200),(0.5630,1.204),(0.5640,1.202),(0.5650,1.199),(0.5660,1.203),
    (0.5670,1.200),(0.5680,1.197)]

STAR_NAMES = ["NSVS 02502726", "GSC 2499 246", "BS UMa", "HW Vir", "DE CVn",
              "NSVS 01031772", "HAT-145-0001586", "GK Boo", "NSVS 07826147"]

# x tick labels
X_TICKS = [
    [56006.40, 56006.45], [56004.30, 56004.40, 56004.50], [56007.30, 56007.45, 56007.60],
    [56000.45, 56000.50, 56000.55], [55991.50, 55991.55, 55991.60], [55965.50, 55965.60, 55965.70],
    [56058.45, 56058.50, 56058.55], [56063.50, 56063.60], [56065.40, 56065.50]]

# y tick values and labels
Y_P1 = [-0.80,-0.85,-0.90,-0.95,-1.00,-1.05,-1.10,-1.15,-1.20,-1.25]
Y_P1_TXT = ["-0.80","-0.85","-0.90","-0.95","-1.00","-1.05","-1.10","-1.15","-1.20","-1.25"]
Y_P2 = [-0.20,-0.10,0.00,0.10,0.20,0.30,0.40,0.50,0.60,0.70]
Y_P2_TXT = ["-0.20","-0.10","+0.00","+0.10","+0.20","+0.30","+0.40","+0.50","+0.60","+0.70"]
Y_P3 = [-0.20,-0.15,-0.10,-0.05,0.00,0.05,0.10,0.15,0.20,0.25,0.30]
Y_P3_TXT = ["-0.20","-0.15","-0.10","-0.05","+0.00","+0.05","+0.10","+0.15","+0.20","+0.25","+0.30"]
Y_P4 = [-0.40,-0.30,-0.20,-0.10,0.00,0.10,0.20,0.30,0.40,0.50,0.60]
Y_P4_TXT = ["-0.40","-0.30","-0.20","-0.10","-0.00","-0.10","-0.20","-0.30","-0.40","-0.50","-0.60"]
Y_P5 = [1.70,1.72,1.74,1.76,1.78,1.80,1.82,1.84,1.86]
Y_P5_TXT = ["+1.70","+1.72","+1.74","+1.76","+1.78","+1.80","+1.82","+1.84","+1.86"]
Y_P6 = [0.90,1.00,1.10,1.20,1.30,1.40,1.50,1.60,1.70]
Y_P6_TXT = ["+0.90","+1.00","+1.10","+1.20","+1.30","+1.40","+1.50","+1.60","+1.70"]
Y_P7 = [-0.20,-0.10,0.00,0.10,0.20,0.30,0.40,0.50,0.60]
Y_P7_TXT = ["-0.20","-0.10","-0.00","-0.10","-0.20","-0.30","-0.40","-0.50","-0.60"]
Y_P8 = [0.00,0.10,0.20,0.30,0.40,0.50,0.60,0.70,0.80,0.90]
Y_P8_TXT = ["+0.00","+0.10","+0.20","+0.30","+0.40","+0.50","+0.60","+0.70","+0.80","+0.90"]
Y_P9 = [1.00,1.20,1.40,1.60,1.80,2.00,2.20,2.40,2.60]
Y_P9_TXT = ["+1.00","+1.20","+1.40","+1.60","+1.80","+2.00","+2.20","+2.40","+2.60"]

CAPTION = "A sample of LC obtained at the Stará Lesná observatory"
PAGE_NO = "16"
Y_TITLE = "Δmag"
X_TITLE = "JD [2400000+]"

# ---------------- layout helpers ----------------
W, H = 720, 540
COLS = [(86, 257), (283, 454), (483, 652)]
ROWS = [(30, 158), (176, 306), (324, 453)]

series = [
    (NSVS02502726_JD0, NSVS02502726), (GSC2499246_JD0, GSC2499246), (BSUMA_JD0, BSUMA),
    (HWVIR_JD0, HWVIR), (DECVN_JD0, DECVN), (NSVS01031772_JD0, NSVS01031772),
    (HAT145_JD0, HAT145), (GKBOO_JD0, GKBOO), (NSVS07826147_JD0, NSVS07826147)]

x_ranges = [
    (56006.3887, 56006.4725), (56004.2801, 56004.5227), (56007.2716, 56007.6142),
    (56000.4402, 56000.5596), (55991.4781, 55991.6124), (55965.4403, 55965.7113),
    (56058.4258, 56058.5608), (56063.4468, 56063.7169), (56065.3770, 56065.5683)]
y_ranges = [(-1.25, -0.80), (0.70, -0.20), (0.30, -0.20), (0.60, -0.40), (1.86, 1.70),
            (1.70, 0.90), (0.60, -0.20), (0.90, 0.00), (2.60, 1.00)]
y_ticks = [(Y_P1, Y_P1_TXT), (Y_P2, Y_P2_TXT), (Y_P3, Y_P3_TXT), (Y_P4, Y_P4_TXT),
           (Y_P5, Y_P5_TXT), (Y_P6, Y_P6_TXT), (Y_P7, Y_P7_TXT), (Y_P8, Y_P8_TXT),
           (Y_P9, Y_P9_TXT)]
label_pos = [(173, 57), (384, 135), (550, 132), (118, 281), (385, 281), (601, 281),
             (212, 427), (393, 427), (533, 427)]

fig = go.Figure()
layout = dict(template="none", width=W, height=H, margin=dict(l=0, r=0, t=0, b=0, pad=0),
              paper_bgcolor="white", plot_bgcolor="white", showlegend=False)
annotations = []
tick_font = dict(family="Liberation Sans, Arial, sans-serif", size=7.5, color="#2a2a2a")

for i, ((jd0, pts), xr, yr, (yv, yt), lp) in enumerate(
        zip(series, x_ranges, y_ranges, y_ticks, label_pos)):
    r, c = divmod(i, 3)
    n = "" if i == 0 else str(i + 1)
    fig.add_trace(go.Scatter(
        x=[jd0 + p[0] for p in pts], y=[p[1] for p in pts], mode="markers",
        marker=dict(size=3.3, color="black", line=dict(width=0)),
        xaxis="x" + n, yaxis="y" + n, hoverinfo="skip"))
    x0, x1 = COLS[c]
    top, bot = ROWS[r]
    xt = X_TICKS[i]
    step = xt[1] - xt[0]
    layout["xaxis" + n] = dict(
        domain=[x0 / W, x1 / W], range=list(xr), anchor="y" + n,
        tickmode="array", tickvals=xt, ticktext=["%.2f" % v for v in xt],
        ticks="inside", ticklen=5, tickwidth=1, tickcolor="black",
        minor=dict(tickmode="linear", tick0=xt[0], dtick=step / 2, ticks="inside",
                   ticklen=3, tickcolor="black"),
        showline=True, linecolor="black", linewidth=1.5, mirror="allticks",
        showgrid=False, zeroline=False, tickfont=tick_font)
    layout["yaxis" + n] = dict(
        domain=[1 - bot / H, 1 - top / H], range=list(yr), anchor="x" + n,
        tickmode="array", tickvals=yv, ticktext=yt,
        ticks="inside", ticklen=5, tickwidth=1, tickcolor="black",
        showline=True, linecolor="black", linewidth=1.5, mirror="allticks",
        showgrid=False, zeroline=False, tickfont=tick_font)
    annotations.append(dict(
        text=STAR_NAMES[i], x=lp[0] / W, y=1 - lp[1] / H, xref="paper", yref="paper",
        showarrow=False, xanchor="center", yanchor="middle",
        font=dict(family="Liberation Sans, Arial, sans-serif", size=9.5, color="#222222")))

for r, (top, bot) in enumerate(ROWS):
    annotations.append(dict(
        text=Y_TITLE, x=62 / W, y=1 - (top + bot) / 2 / H, xref="paper", yref="paper",
        showarrow=False, textangle=-90, xanchor="center", yanchor="middle",
        font=dict(family="Liberation Sans, Arial, sans-serif", size=10, color="#333333")))
for (x0, x1) in COLS:
    annotations.append(dict(
        text=X_TITLE, x=(x0 + x1) / 2 / W, y=1 - 472 / H, xref="paper", yref="paper",
        showarrow=False, xanchor="center", yanchor="middle",
        font=dict(family="Liberation Sans, Arial, sans-serif", size=10.5, color="#333333")))

annotations.append(dict(
    text=CAPTION, x=363 / W, y=1 - 508 / H, xref="paper", yref="paper", showarrow=False,
    xanchor="center", yanchor="middle",
    font=dict(family="Tahoma, DejaVu Sans, sans-serif", size=21, color="#2b86b8")))
annotations.append(dict(
    text=PAGE_NO, x=548 / W, y=1 - 511 / H, xref="paper", yref="paper", showarrow=False,
    xanchor="center", yanchor="middle",
    font=dict(family="Liberation Serif, Times New Roman, serif", size=20, color="black")))

layout["annotations"] = annotations
layout["shapes"] = [dict(type="rect", xref="paper", yref="paper", x0=0, x1=1,
                         y0=1 - 8 / H, y1=1, fillcolor="#1f5fdc", line=dict(width=0),
                         layer="above")]
fig.update_layout(**layout)
fig.write_html("out.html",
               config={"displayModeBar": False, "staticPlot": True},
               post_script="document.body.style.margin='0';"
                           "document.body.style.overflow='hidden';")
